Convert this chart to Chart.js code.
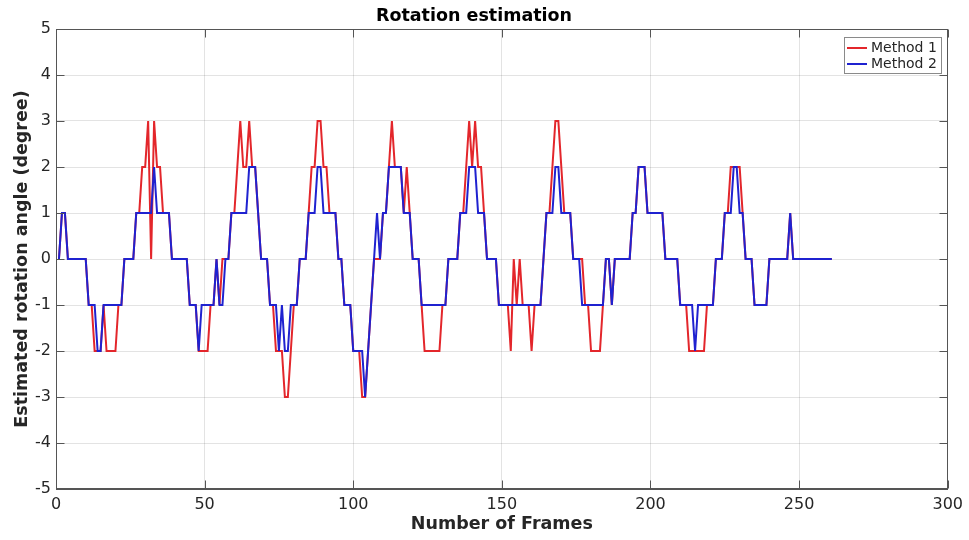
<!DOCTYPE html>
<html><head><meta charset="utf-8">
<script src="https://cdn.jsdelivr.net/npm/chart.js@4.4.0/dist/chart.umd.min.js"></script>
<style>html,body{margin:0;padding:0;background:#fff;}</style>
</head><body>
<canvas id="c" width="969" height="540" style="display:block;width:969px;height:540px"></canvas>
<script>
const seriesNames = ['Method 1', 'Method 2'];
const method1 = [
 0,1,1,0,0,0,0,0,0,0,
 -1,-1,-2,-2,-2,-1,-2,-2,-2,-2,
 -1,-1,0,0,0,0,1,1,2,2,
 3,0,3,2,2,1,1,1,0,0,
 0,0,0,0,-1,-1,-1,-2,-2,-2,
 -2,-1,-1,0,-1,0,0,0,1,1,
 2,3,2,2,3,2,2,1,0,0,
 0,-1,-1,-2,-2,-2,-3,-3,-2,-1,
 -1,0,0,0,1,2,2,3,3,2,
 2,1,1,1,0,0,-1,-1,-1,-2,
 -2,-2,-3,-3,-2,-1,0,0,0,1,
 1,2,3,2,2,2,1,2,1,0,
 0,0,-1,-2,-2,-2,-2,-2,-2,-1,
 -1,0,0,0,0,1,1,2,3,2,
 3,2,2,1,0,0,0,0,-1,-1,
 -1,-1,-2,0,-1,0,-1,-1,-1,-2,
 -1,-1,-1,0,1,1,2,3,3,2,
 1,1,1,0,0,0,0,-1,-1,-2,
 -2,-2,-2,-1,0,0,-1,0,0,0,
 0,0,0,1,1,2,2,2,1,1,
 1,1,1,1,0,0,0,0,0,-1,
 -1,-1,-2,-2,-2,-2,-2,-2,-1,-1,
 -1,0,0,0,1,1,2,2,2,2,
 1,0,0,0,-1,-1,-1,-1,-1,0,
 0,0,0,0,0,0,1,0,0,0,
 0,0,0,0,0,0,0,0,0,0,0
];
const method2 = [
 0,1,1,0,0,0,0,0,0,0,
 -1,-1,-1,-2,-2,-1,-1,-1,-1,-1,
 -1,-1,0,0,0,0,1,1,1,1,
 1,1,2,1,1,1,1,1,0,0,
 0,0,0,0,-1,-1,-1,-2,-1,-1,
 -1,-1,-1,0,-1,-1,0,0,1,1,
 1,1,1,1,2,2,2,1,0,0,
 0,-1,-1,-1,-2,-1,-2,-2,-1,-1,
 -1,0,0,0,1,1,1,2,2,1,
 1,1,1,1,0,0,-1,-1,-1,-2,
 -2,-2,-2,-3,-2,-1,0,1,0,1,
 1,2,2,2,2,2,1,1,1,0,
 0,0,-1,-1,-1,-1,-1,-1,-1,-1,
 -1,0,0,0,0,1,1,1,2,2,
 2,1,1,1,0,0,0,0,-1,-1,
 -1,-1,-1,-1,-1,-1,-1,-1,-1,-1,
 -1,-1,-1,0,1,1,1,2,2,1,
 1,1,1,0,0,0,-1,-1,-1,-1,
 -1,-1,-1,-1,0,0,-1,0,0,0,
 0,0,0,1,1,2,2,2,1,1,
 1,1,1,1,0,0,0,0,0,-1,
 -1,-1,-1,-1,-2,-1,-1,-1,-1,-1,
 -1,0,0,0,1,1,1,2,2,1,
 1,0,0,0,-1,-1,-1,-1,-1,0,
 0,0,0,0,0,0,1,0,0,0,
 0,0,0,0,0,0,0,0,0,0,0
];
const frames = method1.map((v, i) => i + 1);
const xTicks = [0, 50, 100, 150, 200, 250, 300];
const yTicks = [-5, -4, -3, -2, -1, 0, 1, 2, 3, 4, 5];
const seriesColors = ['#e3262b', '#1f22d0'];

const toPoints = arr => arr.map((v, i) => ({x: frames[i], y: v}));

const framePlugin = {
  id: 'frame',
  afterDatasetsDraw(chart) {
    const {ctx, chartArea: a, scales: {x, y}} = chart;
    ctx.save();
    ctx.strokeStyle = '#555';
    ctx.lineWidth = 1;
    const L = Math.round(a.left) + 0.5, R = Math.round(a.right) - 0.5;
    const T = Math.round(a.top) + 0.5, B = Math.round(a.bottom) - 0.5;
    ctx.strokeRect(L, T, R - L, B - T);
    const tl = 8;
    ctx.beginPath();
    xTicks.forEach(v => {
      const px = Math.round(x.getPixelForValue(v)) + 0.5;
      ctx.moveTo(px, B); ctx.lineTo(px, B - tl);
      ctx.moveTo(px, T); ctx.lineTo(px, T + tl);
    });
    yTicks.forEach(v => {
      const py = Math.round(y.getPixelForValue(v)) + 0.5;
      ctx.moveTo(L, py); ctx.lineTo(L + tl, py);
      ctx.moveTo(R, py); ctx.lineTo(R - tl, py);
    });
    ctx.stroke();
    // legend
    const bx = 844.5, by = 37.5, bw = 97, bh = 36;
    ctx.fillStyle = '#fff';
    ctx.fillRect(bx, by, bw, bh);
    ctx.strokeStyle = '#8a8a8a';
    ctx.strokeRect(bx, by, bw, bh);
    ctx.font = '14px "DejaVu Sans"';
    ctx.textBaseline = 'middle';
    ctx.textAlign = 'left';
    seriesNames.forEach((name, i) => {
      const ly = 48 + i * 16;
      ctx.strokeStyle = seriesColors[i];
      ctx.lineWidth = 2;
      ctx.beginPath();
      ctx.moveTo(847, ly); ctx.lineTo(867, ly);
      ctx.stroke();
      ctx.fillStyle = '#262626';
      ctx.fillText(name, 871, ly);
    });
    ctx.restore();
  }
};

new Chart(document.getElementById('c'), {
  type: 'line',
  data: {
    datasets: [
      {label: seriesNames[0], data: toPoints(method1), borderColor: seriesColors[0], borderWidth: 2, pointRadius: 0, tension: 0, fill: false, order: 1},
      {label: seriesNames[1], data: toPoints(method2), borderColor: seriesColors[1], borderWidth: 2, pointRadius: 0, tension: 0, fill: false, order: 0}
    ]
  },
  options: {
    responsive: false,
    animation: false,
    devicePixelRatio: 1,
    layout: {padding: {left: 0, right: 21, top: 0, bottom: 0}},
    plugins: {
      legend: {display: false},
      tooltip: {enabled: false},
      title: {
        display: true,
        text: 'Rotation estimation',
        color: '#000',
        font: {family: 'DejaVu Sans', size: 17.5, weight: 'bold'},
        padding: {top: 6, bottom: 2}
      }
    },
    scales: {
      x: {
        type: 'linear', min: 0, max: 300,
        afterBuildTicks: s => { s.ticks = xTicks.map(v => ({value: v})); },
        afterFit: s => { s.height = 51; },
        ticks: {color: '#262626', font: {family: 'DejaVu Sans', size: 16}, padding: 6, maxRotation: 0},
        grid: {color: 'rgba(38,38,38,0.13)', drawTicks: false},
        border: {display: true, color: '#555'},
        title: {display: true, text: 'Number of Frames', color: '#262626',
          font: {family: 'DejaVu Sans', size: 17.5, weight: 'bold'}, padding: {top: 0, bottom: 5.5}}
      },
      y: {
        type: 'linear', min: -5, max: 5,
        afterBuildTicks: s => { s.ticks = yTicks.map(v => ({value: v})); },
        afterFit: s => { s.width = 56; },
        ticks: {color: '#262626', font: {family: 'DejaVu Sans', size: 16}, padding: 5},
        grid: {color: 'rgba(38,38,38,0.13)', drawTicks: false},
        border: {display: true, color: '#555'},
        title: {display: true, text: 'Estimated rotation angle (degree)', color: '#262626',
          font: {family: 'DejaVu Sans', size: 17.5, weight: 'bold'}, padding: {top: 11.5, bottom: 0}}
      }
    }
  },
  plugins: [framePlugin]
});
</script>
</body></html>
